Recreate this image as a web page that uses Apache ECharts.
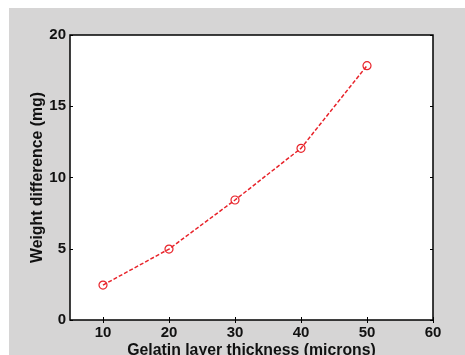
<!DOCTYPE html>
<html><head><meta charset="utf-8">
<script src="https://cdn.jsdelivr.net/npm/echarts@6/dist/echarts.min.js"></script>
<style>html,body{margin:0;padding:0;background:#fff;}#c{width:465px;height:355px;}</style>
</head><body><div id="c"></div>
<script>
const thickness = [10, 20, 30, 40, 50];
const weightDiff = [2.45, 4.98, 8.42, 12.05, 17.85];
const xTicks = [10, 20, 30, 40, 50, 60];
const yTicks = [0, 5, 10, 15, 20];

const chart = echarts.init(document.getElementById('c'));
const font = {fontFamily: 'Liberation Sans, Arial, sans-serif', fontWeight: 'bold', fontSize: 15, color: '#111'};
const nameFont = Object.assign({}, font, {fontSize: 15.8});
const tick = {show: true, inside: true, length: 3, lineStyle: {color: '#000', width: 1}};
chart.setOption({
  animation: false,
  graphic: [{type: 'rect', shape: {x: 9, y: 8, width: 456, height: 347}, style: {fill: '#d6d5d5'}, z: -10}],
  grid: {left: 70, top: 35, right: 32, bottom: 35, outerBoundsMode: 'none', containLabel: false,
    show: true, backgroundColor: '#fff', borderColor: '#000', borderWidth: 1.5, z: 0},
  xAxis: [
    {type: 'value', min: 5, max: 60, position: 'bottom',
      name: 'Gelatin layer thickness (microns)', nameLocation: 'middle', nameGap: 23, nameMoveOverlap: false,
      nameTextStyle: nameFont,
      axisLine: {show: false}, splitLine: {show: false},
      axisTick: Object.assign({customValues: xTicks}, tick),
      axisLabel: Object.assign({margin: 5, customValues: xTicks}, font)},
    {type: 'value', min: 5, max: 60, position: 'top',
      axisLine: {show: false}, splitLine: {show: false},
      axisTick: Object.assign({customValues: xTicks}, tick),
      axisLabel: {show: false}}
  ],
  yAxis: [
    {type: 'value', min: 0, max: 20, position: 'left',
      name: 'Weight difference (mg)', nameLocation: 'middle', nameGap: 24, nameMoveOverlap: false,
      nameTextStyle: nameFont,
      axisLine: {show: false}, splitLine: {show: false},
      axisTick: Object.assign({customValues: yTicks}, tick),
      axisLabel: Object.assign({margin: 4, customValues: yTicks}, font)},
    {type: 'value', min: 0, max: 20, position: 'right',
      axisLine: {show: false}, splitLine: {show: false},
      axisTick: Object.assign({customValues: yTicks}, tick),
      axisLabel: {show: false}}
  ],
  series: [{
    type: 'line', xAxisIndex: 0, yAxisIndex: 0,
    data: thickness.map((x, i) => [x, weightDiff[i]]),
    symbol: 'circle', symbolSize: 8,
    lineStyle: {color: '#e8232a', width: 1.5, type: [4, 2]},
    itemStyle: {color: 'rgba(255,255,255,0)', borderColor: '#e8232a', borderWidth: 1.2}
  }]
});
</script></body></html>
